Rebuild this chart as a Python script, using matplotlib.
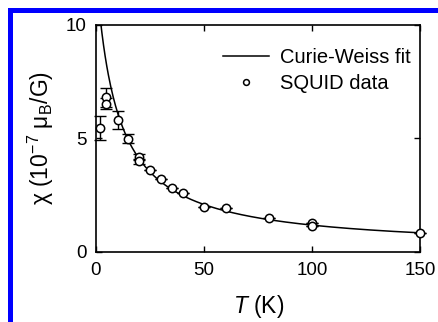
import numpy as np
import matplotlib
matplotlib.use("Agg")
import matplotlib.pyplot as plt
from matplotlib.patches import Rectangle

plt.rcParams['font.family'] = ['Liberation Sans', 'DejaVu Sans']
plt.rcParams['mathtext.fontset'] = 'custom'
plt.rcParams['mathtext.rm'] = 'Liberation Sans'
plt.rcParams['mathtext.it'] = 'Liberation Sans:italic'
plt.rcParams['mathtext.bf'] = 'Liberation Sans:bold'

# SQUID data
T_data = [1.8, 4.5, 4.5, 10, 15, 20, 20, 25, 30, 35, 40, 50, 60, 80, 100, 100, 150]
chi_data = [5.45, 6.8, 6.52, 5.8, 4.97, 4.18, 3.98, 3.6, 3.2, 2.83, 2.6, 1.97, 1.93, 1.5, 1.28, 1.15, 0.84]
chi_err = [0.52, 0.42, 0.25, 0.38, 0.2, 0.12, 0.1, 0, 0, 0, 0, 0, 0, 0, 0, 0, 0]

# Curie-Weiss fit parameters: chi = C/(T - theta) + chi0
C_fit = 118.5
theta_fit = -9.7
chi0_fit = 0.1
T_fit_range = [2.0, 150.0]

x_ticks = [0, 50, 100, 150]
y_ticks = [0, 5, 10]

fig = plt.figure(figsize=(4.39, 3.22), dpi=100)
ax = fig.add_axes([96/439, 1-252/322, 324.5/439, 227.5/322])

T_fit = np.linspace(T_fit_range[0], T_fit_range[1], 400)
chi_fit = C_fit / (T_fit - theta_fit) + chi0_fit
ax.plot(T_fit, chi_fit, color='black', lw=1.1, label='Curie-Weiss fit', zorder=2)

ax.errorbar(T_data, chi_data, yerr=chi_err, fmt='none', ecolor='black',
            elinewidth=1.0, capsize=4, capthick=1.0, zorder=3, clip_on=False)
ax.plot(T_data, chi_data, 'o', ms=6, mfc='white', mec='black', mew=1.1,
        linestyle='none', label='SQUID data', zorder=4, clip_on=False)

ax.set_xlim(0, 150)
ax.set_ylim(0, 10)
ax.set_xticks(x_ticks)
ax.set_yticks(y_ticks)
ax.tick_params(direction='in', length=4, width=1, top=True, right=True,
               labelsize=13.5, pad=7)
for s in ax.spines.values():
    s.set_linewidth(1.2)

ax.set_xlabel(r'$T$ (K)', fontsize=16.5, labelpad=10)
ax.set_ylabel('χ (10$^{-7}$ μ$_{\\mathrm{B}}$/G)', fontsize=16.5, labelpad=7)

leg = ax.legend(loc='upper left', bbox_to_anchor=(0.39, 0.895), frameon=False,
                fontsize=14.5, handlelength=2.3, handletextpad=0.55,
                labelspacing=0.35, borderpad=0, borderaxespad=0, markerscale=0.7)

# blue frame (top and left)
fig.patches.append(Rectangle((8/439, 0), 5/439, 1-8/322, transform=fig.transFigure,
                             color='#0000ff', lw=0, zorder=10))
fig.patches.append(Rectangle((8/439, 1-13/322), 1-8/439, 5/322, transform=fig.transFigure,
                             color='#0000ff', lw=0, zorder=10))

fig.savefig('out.png', dpi=100)
